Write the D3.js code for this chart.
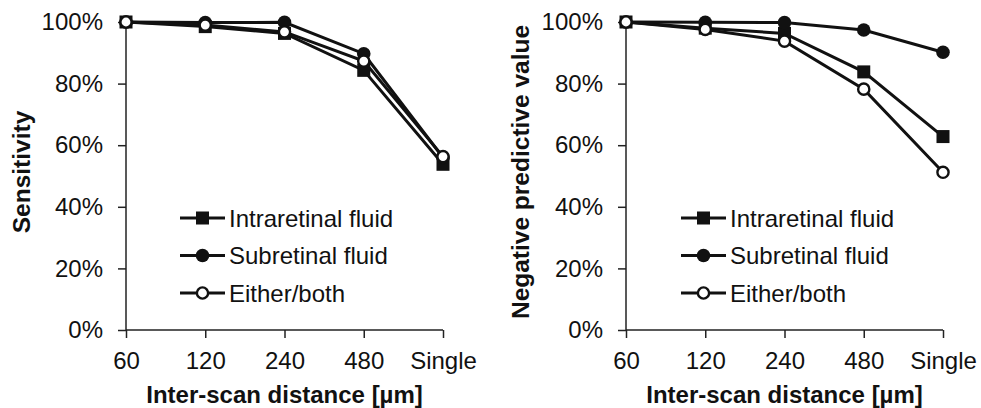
<!DOCTYPE html>
<html lang="en">
<head>
<meta charset="UTF-8">
<title>Sensitivity and NPV</title>
<script src="https://d3js.org/d3.v7.min.js"></script>
<style>
  body { margin: 0; background: #fff; }
  svg text { font-family: "Liberation Sans", Arial, sans-serif; fill: #111; }
</style>
</head>
<body>
<div id="chart"></div>
<script>
    // categories on the x axis
    const distances = ["60", "120", "240", "480", "Single"];
    const yTicks = [0, 0.2, 0.4, 0.6, 0.8, 1.0];
    const seriesNames = ["Intraretinal fluid", "Subretinal fluid", "Either/both"];
    const markers = ["square", "circle", "open"];

    // values
    const sensIntra = [1.000, 0.985, 0.963, 0.843, 0.538];
    const sensSub = [1.000, 0.998, 0.999, 0.897, 0.560];
    const sensEither = [1.000, 0.990, 0.968, 0.873, 0.563];

    const npvIntra = [1.000, 0.980, 0.963, 0.838, 0.628];
    const npvSub = [1.000, 0.999, 0.998, 0.974, 0.902];
    const npvEither = [1.000, 0.976, 0.938, 0.782, 0.512];

    const width = 981, height = 408;
    const svg = d3.select("#chart").append("svg")
        .attr("width", width)
        .attr("height", height);

    const panels = [
        { left: 126, right: 443, title: "Sensitivity", titleX: 30, legX: 180,
          data: [sensIntra, sensSub, sensEither] },
        { left: 626, right: 943, title: "Negative predictive value", titleX: 529, legX: 681,
          data: [npvIntra, npvSub, npvEither] }
    ];

    const plotTop = 22, plotBottom = 330;

    function drawMarker(g, type, x, y) {
        if (type === "square") {
            g.append("rect")
                .attr("x", x - 6.5).attr("y", y - 6.5)
                .attr("width", 13).attr("height", 13)
                .attr("fill", "#111");
        } else {
            g.append("circle")
                .attr("cx", x).attr("cy", y)
                .attr("r", type === "open" ? 5.6 : 6.8)
                .attr("fill", type === "open" ? "#fff" : "#111")
                .attr("stroke", "#111")
                .attr("stroke-width", type === "open" ? 2.4 : 0);
        }
    }

    panels.forEach(p => {
        const x = d3.scalePoint().domain(distances).range([p.left, p.right]);
        const y = d3.scaleLinear().domain([0, 1]).range([plotBottom, plotTop]);
        const g = svg.append("g");

        // y axis
        const yAxis = g.append("g")
            .attr("transform", `translate(${p.left},0)`)
            .call(d3.axisLeft(y).tickValues(yTicks).tickFormat(d3.format(".0%")).tickSize(8).tickPadding(15));
        yAxis.select(".domain").attr("stroke", "#222").attr("stroke-width", 1.5)
            .attr("d", `M0,${plotBottom}V${plotTop}`);
        yAxis.selectAll(".tick line").attr("stroke", "#222").attr("stroke-width", 1.5);
        yAxis.selectAll(".tick text")
            .style("font-size", "24px").attr("fill", "#111");

        // x axis
        const xAxis = g.append("g")
            .attr("transform", `translate(0,${plotBottom})`)
            .call(d3.axisBottom(x).tickSize(8).tickPadding(14));
        xAxis.select(".domain").attr("stroke", "#222").attr("stroke-width", 1.5)
            .attr("d", `M${p.left},0H${p.right}`);
        xAxis.selectAll(".tick line").attr("stroke", "#222").attr("stroke-width", 1.5);
        xAxis.selectAll(".tick text")
            .style("font-size", "24px").attr("fill", "#111");

        // axis titles
        g.append("text")
            .attr("x", (p.left + p.right) / 2)
            .attr("y", 403)
            .attr("text-anchor", "middle")
            .style("font-size", "24px")
            .style("font-weight", "bold")
            .text("Inter-scan distance [µm]");

        g.append("text")
            .attr("transform", `translate(${p.titleX},172) rotate(-90)`)
            .attr("text-anchor", "middle")
            .style("font-size", "24.5px")
            .style("font-weight", "bold")
            .text(p.title);

        // series
        const line = d3.line().x((d, i) => x(distances[i])).y(d => y(d));
        p.data.forEach(vals => {
            g.append("path")
                .attr("d", line(vals))
                .attr("fill", "none")
                .attr("stroke", "#111")
                .attr("stroke-width", 3);
        });
        p.data.forEach((vals, si) => {
            vals.forEach((v, i) => drawMarker(g, markers[si], x(distances[i]), y(v)));
        });

        // legend
        seriesNames.forEach((name, si) => {
            const ly = 218 + si * 37.5;
            const lg = g.append("g");
            lg.append("line")
                .attr("x1", p.legX).attr("x2", p.legX + 45)
                .attr("y1", ly).attr("y2", ly)
                .attr("stroke", "#111").attr("stroke-width", 3);
            drawMarker(lg, markers[si], p.legX + 22.5, ly);
            lg.append("text")
                .attr("x", p.legX + 49)
                .attr("y", ly + 8.5)
                .style("font-size", "24px")
                .text(name);
        });
    });
</script>
</body>
</html>
